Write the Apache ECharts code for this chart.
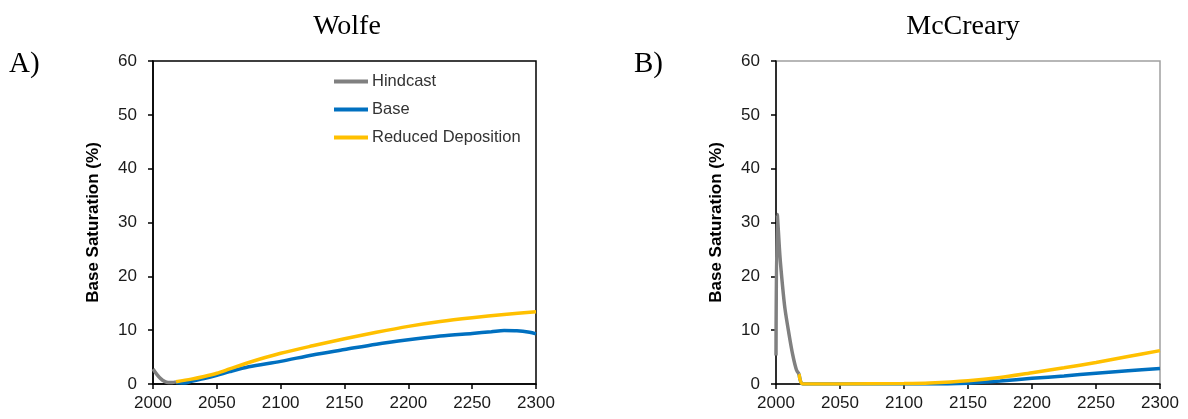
<!DOCTYPE html>
<html>
<head>
<meta charset="utf-8">
<script src="https://cdn.jsdelivr.net/npm/echarts@6/dist/echarts.min.js"></script>
<style>
html,body{margin:0;padding:0;background:#fff;}
#chart{width:1188px;height:419px;}
</style>
</head>
<body>
<div id="chart"></div>
<script>
// ---- Data ----
const panelTitles = ['Wolfe', 'McCreary'];
const panelLetters = ['A)', 'B)'];
const seriesNames = ['Hindcast', 'Base', 'Reduced Deposition'];
const yTicks = [0, 10, 20, 30, 40, 50, 60];
const xTicks = [2000, 2050, 2100, 2150, 2200, 2250, 2300];

// Wolfe
const wolfeHindYears = [2000, 2003, 2006, 2009, 2012, 2015, 2018];
const wolfeHind      = [2.8, 1.8, 1.0, 0.5, 0.3, 0.3, 0.4];
const wolfeBaseYears = [2018, 2025, 2030, 2040, 2050, 2060, 2075, 2100, 2125, 2150, 2175, 2200, 2225, 2250, 2265, 2275, 2285, 2295, 2300];
const wolfeBase      = [0.3, 0.2, 0.5, 1.0, 1.6, 2.3, 3.2, 4.2, 5.4, 6.4, 7.4, 8.2, 8.9, 9.4, 9.7, 9.95, 9.9, 9.6, 9.3];
const wolfeRedYears  = [2018, 2030, 2040, 2050, 2060, 2075, 2100, 2125, 2150, 2175, 2200, 2225, 2250, 2275, 2300];
const wolfeRed       = [0.4, 0.9, 1.4, 2.0, 2.8, 4.0, 5.7, 7.1, 8.4, 9.6, 10.7, 11.6, 12.3, 12.9, 13.4];

// McCreary
const mccHindYears = [2000, 2001, 2003, 2005, 2007, 2010, 2013, 2016, 2018];
const mccHind      = [5.3, 31.5, 24, 18.5, 14, 9.5, 5.5, 2.6, 1.9];
const mccBaseYears = [2018, 2021, 2050, 2100, 2130, 2150, 2175, 2200, 2225, 2250, 2275, 2300];
const mccBase      = [1.9, 0, 0, 0, 0, 0.15, 0.55, 1.05, 1.5, 2.0, 2.45, 2.9];
const mccRedYears  = [2018, 2021, 2050, 2100, 2120, 2150, 2175, 2200, 2225, 2250, 2275, 2300];
const mccRed       = [1.9, 0, 0, 0.1, 0.2, 0.6, 1.2, 2.1, 3.0, 4.0, 5.1, 6.2];

const colors = ['#808080', '#0070C0', '#FFC000'];

function pairs(xs, ys) { return xs.map((x, i) => [x, ys[i]]); }

const panels = [
  [pairs(wolfeHindYears, wolfeHind), pairs(wolfeBaseYears, wolfeBase), pairs(wolfeRedYears, wolfeRed)],
  [pairs(mccHindYears, mccHind), pairs(mccBaseYears, mccBase), pairs(mccRedYears, mccRed)]
];

const chart = echarts.init(document.getElementById('chart'));

const grids = [
  {left: 153, top: 61, width: 383, height: 323, show: true, borderColor: '#000', borderWidth: 1.5, backgroundColor: 'transparent'},
  {left: 776, top: 61, width: 384, height: 323, show: true, borderColor: '#a0a0a0', borderWidth: 1.5, backgroundColor: 'transparent'}
];

const sans = 'Liberation Sans, Arial, sans-serif';
const tickFont = {fontFamily: sans, fontSize: 17, color: '#1a1a1a'};

const xAxes = grids.map((g, i) => ({
  type: 'value', gridIndex: i, min: xTicks[0], max: xTicks[xTicks.length - 1], interval: 50,
  axisLine: {show: true, lineStyle: {color: '#000', width: 1.5}},
  axisTick: {show: true, inside: false, length: 5, lineStyle: {color: '#000', width: 1.5}},
  axisLabel: Object.assign({margin: 11, formatter: v => String(v)}, tickFont),
  splitLine: {show: false}
}));

const yAxes = grids.map((g, i) => ({
  type: 'value', gridIndex: i, min: yTicks[0], max: yTicks[yTicks.length - 1], interval: 10,
  name: 'Base Saturation (%)', nameLocation: 'middle', nameGap: 51, nameRotate: 90,
  nameTextStyle: {fontFamily: sans, fontSize: 17, fontWeight: 'bold', color: '#000'},
  axisLine: {show: true, lineStyle: {color: '#000', width: 1.5}},
  axisTick: {show: true, inside: false, length: 5, lineStyle: {color: '#000', width: 1.5}},
  axisLabel: Object.assign({margin: 16}, tickFont),
  splitLine: {show: false}
}));

const series = [];
panels.forEach((p, gi) => {
  p.forEach((data, si) => {
    series.push({
      name: seriesNames[si], type: 'line', xAxisIndex: gi, yAxisIndex: gi,
      data: data, showSymbol: false, symbol: 'none', smooth: 0.3,
      lineStyle: {color: colors[si], width: 3.5}, itemStyle: {color: colors[si]},
      z: si === 2 ? 4 : (si === 1 ? 3 : 5),
      animation: false
    });
  });
});

const serif = 'Liberation Serif, Times New Roman, serif';

chart.setOption({
  animation: false,
  backgroundColor: '#fff',
  title: [
    {text: panelTitles[0], left: 342, top: 8, textAlign: 'center', textStyle: {fontFamily: serif, fontSize: 28, fontWeight: 'normal', color: '#000'}},
    {text: panelTitles[1], left: 958, top: 8, textAlign: 'center', textStyle: {fontFamily: serif, fontSize: 28, fontWeight: 'normal', color: '#000'}},
    {text: panelLetters[0], left: 4, top: 45, textStyle: {fontFamily: serif, fontSize: 29, fontWeight: 'normal', color: '#000'}},
    {text: panelLetters[1], left: 629, top: 45, textStyle: {fontFamily: serif, fontSize: 29, fontWeight: 'normal', color: '#000'}}
  ],
  legend: {
    data: seriesNames, orient: 'vertical', left: 329, top: 68, itemGap: 11,
    icon: 'rect', itemWidth: 34, itemHeight: 4,
    textStyle: {fontFamily: sans, fontSize: 16.5, color: '#333', padding: [0, 0, 0, -1]}
  },
  grid: grids,
  xAxis: xAxes,
  yAxis: yAxes,
  series: series
});
</script>
</body>
</html>
